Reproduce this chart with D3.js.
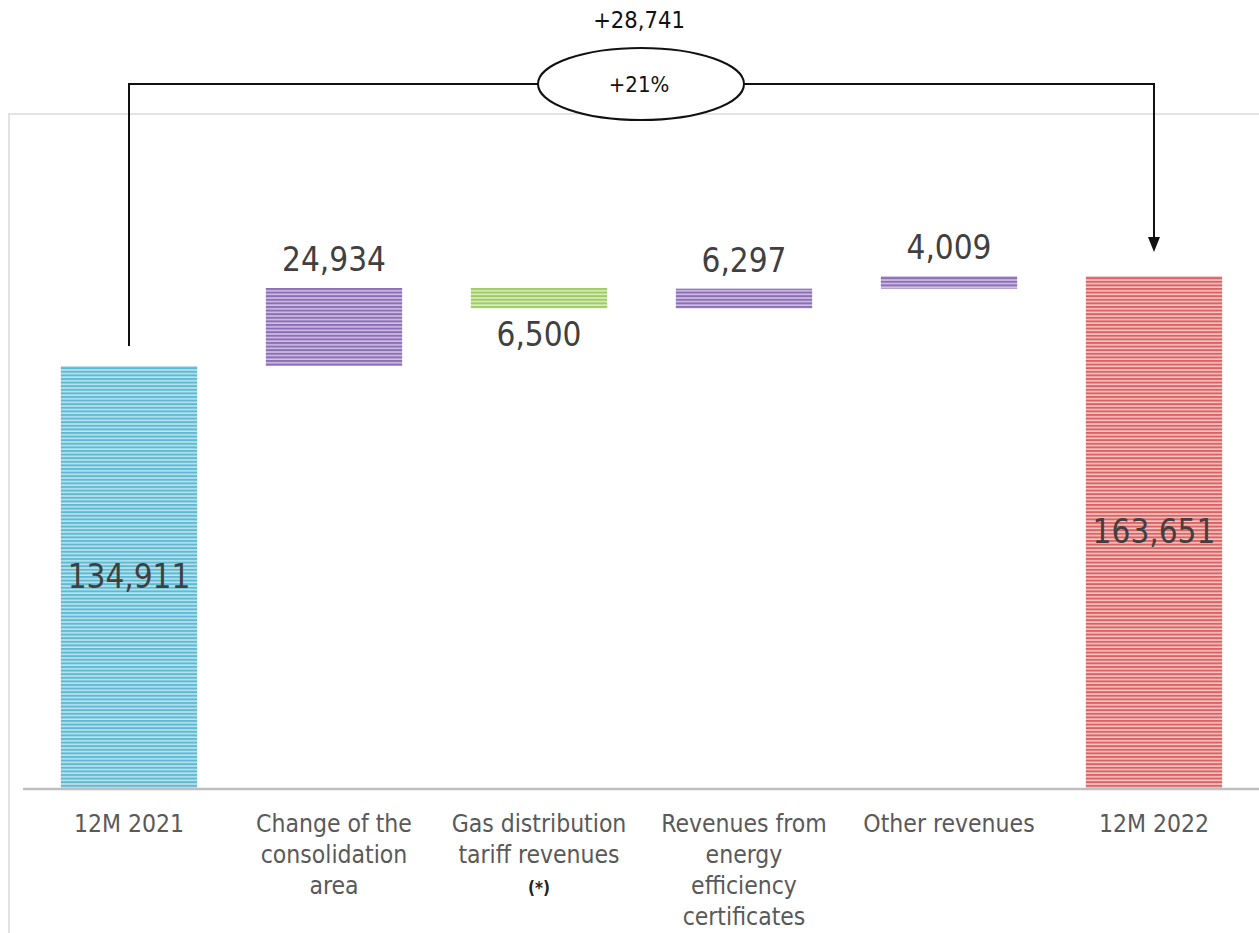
<!DOCTYPE html>
<html><head><meta charset="utf-8">
<script src="https://cdn.jsdelivr.net/npm/d3@7"></script>
<style>body{margin:0;background:#fff}svg{display:block}</style>
</head><body>
<script>
const categories = [["12M 2021"],["Change of the","consolidation","area"],["Gas distribution","tariff revenues","(*)"],["Revenues from","energy","efficiency","certificates"],["Other revenues"],["12M 2022"]];
const values = [134911, 24934, -6500, 6297, 4009, 163651];
const kinds = ["total","delta","delta","delta","delta","total"];
const valueLabels = ["134,911","24,934","6,500","6,297","4,009","163,651"];
const totalChange = "+28,741";
const pctChange = "+21%";

const W=1259,H=933;
const svg=d3.select("body").append("svg").attr("width",W).attr("height",H);
const defs=svg.append("defs");
const pal={blue:["#5cbad3","#bfe3ee"],purple:["#8c6eb6","#cfc2e3"],green:["#9fcb60","#dbedc2"],red:["#dc6262","#f5c8c8"]};
Object.entries(pal).forEach(([k,[a,b]])=>{
  const p=defs.append("pattern").attr("id","p-"+k).attr("patternUnits","userSpaceOnUse").attr("width",10).attr("height",3.6);
  p.append("rect").attr("width",10).attr("height",3.6).attr("fill",b);
  p.append("rect").attr("width",10).attr("height",2.0).attr("fill",a);
});

// frame
svg.append("rect").attr("x",9).attr("y",114).attr("width",1300).attr("height",900).attr("fill","none").attr("stroke","#e3e3e3").attr("stroke-width",2);

const x=d3.scaleBand().domain(d3.range(values.length)).range([26,1257]).paddingInner(0.335).paddingOuter(0.17);
const k=422/134911;
const y=d3.scaleLinear().domain([0,180000]).range([788,788-180000*k]);

let run=0;const bars=values.map((v,i)=>{
  let y0,y1;
  if(kinds[i]==="total"){y0=0;y1=v;run=v;}
  else{y0=run;y1=run+v;run=y1;}
  return {i,v,lo:Math.min(y0,y1),hi:Math.max(y0,y1)};
});
const col=(d)=>d.i===0?"blue":d.i===values.length-1?"red":(d.v<0?"green":"purple");
svg.selectAll("rect.bar").data(bars).join("rect").attr("class","bar")
  .attr("x",d=>x(d.i)).attr("width",x.bandwidth())
  .attr("y",d=>y(d.hi)).attr("height",d=>y(d.lo)-y(d.hi))
  .attr("fill",d=>`url(#p-${col(d)})`);

svg.append("line").attr("x1",23).attr("x2",1259).attr("y1",789).attr("y2",789).attr("stroke","#bfbfbf").attr("stroke-width",2.5);

const vf="'DejaVu Sans Condensed','DejaVu Sans',sans-serif";
svg.selectAll("text.val").data(bars).join("text").attr("class","val")
  .attr("x",d=>x(d.i)+x.bandwidth()/2)
  .attr("y",d=>kinds[d.i]==="total"?(y(d.hi)+y(d.lo))/2+11:(d.v<0?y(d.lo)+38:y(d.hi)-17))
  .attr("text-anchor","middle").attr("font-family",vf).attr("font-size",33).attr("fill","#404040")
  .text(d=>valueLabels[d.i]);

const cl=svg.selectAll("g.cat").data(categories).join("g").attr("class","cat");
cl.each(function(lines,i){
  const t=d3.select(this).append("text").attr("text-anchor","middle").attr("font-family",vf).attr("font-size",24.5).attr("fill","#595959");
  lines.forEach((l,j)=>{
    const s=t.append("tspan").attr("x",x(i)+x.bandwidth()/2).attr("y",832+j*31).text(l);
    if(l==="(*)") s.attr("font-size",17).attr("font-weight","bold").attr("fill","#222");
  });
});

const cx0=x(0)+x.bandwidth()/2, cx1=x(5)+x.bandwidth()/2;
const ey=84, ecx=641, rx=103, ry=36;
svg.append("path").attr("d",`M${cx0},346 V${ey} H${ecx-rx}`).attr("fill","none").attr("stroke","#111").attr("stroke-width",2);
svg.append("path").attr("d",`M${ecx+rx},${ey} H${cx1} V240`).attr("fill","none").attr("stroke","#111").attr("stroke-width",2);
svg.append("path").attr("d",`M${cx1-6},237 L${cx1+6},237 L${cx1},252 Z`).attr("fill","#111");
svg.append("ellipse").attr("cx",ecx).attr("cy",ey).attr("rx",rx).attr("ry",ry).attr("fill","#fff").attr("stroke","#111").attr("stroke-width",2);
svg.append("text").attr("x",ecx-2).attr("y",ey+8).attr("text-anchor","middle").attr("font-family",vf).attr("font-size",22).attr("fill","#111").text(pctChange);
svg.append("text").attr("x",ecx-2).attr("y",28).attr("text-anchor","middle").attr("font-family",vf).attr("font-size",23.5).attr("fill","#111").text(totalChange);
</script>
</body></html>
